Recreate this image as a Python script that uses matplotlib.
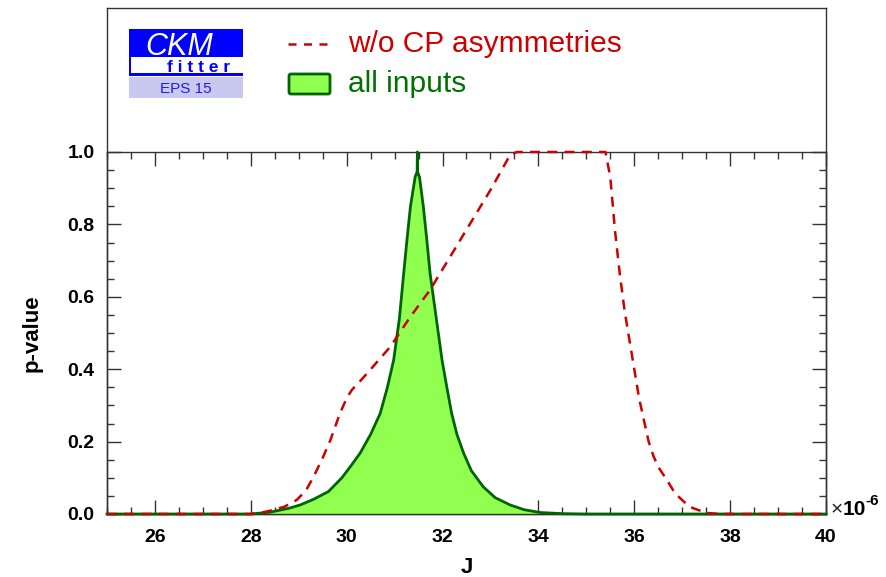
import matplotlib
matplotlib.use("Agg")
import matplotlib.pyplot as plt
from matplotlib.patches import Rectangle, FancyBboxPatch
from matplotlib.lines import Line2D
from matplotlib.ticker import MultipleLocator

plt.rcParams['font.family'] = ['Liberation Sans', 'DejaVu Sans']

# ---- data (J in units of 1e-6) ----
green_J = [25.0, 28.0, 28.4, 28.8, 29.03, 29.3, 29.62, 29.9, 30.1, 30.28, 30.5, 30.7,
           30.85, 30.98, 31.1, 31.19, 31.26, 31.33, 31.43, 31.47, 31.475, 31.48, 31.52,
           31.6, 31.67, 31.74, 31.87, 31.99, 32.09, 32.19, 32.3, 32.44, 32.6, 32.85,
           33.1, 33.41, 33.7, 34.04, 34.5, 35.0, 40.0]
green_p = [0.0, 0.0, 0.005, 0.016, 0.025, 0.04, 0.062, 0.1, 0.135, 0.168, 0.22, 0.278,
           0.35, 0.425, 0.54, 0.665, 0.76, 0.849, 0.932, 0.945, 1.0, 0.945, 0.93,
           0.849, 0.76, 0.665, 0.54, 0.425, 0.35, 0.278, 0.22, 0.168, 0.12, 0.075,
           0.045, 0.025, 0.012, 0.004, 0.001, 0.0, 0.0]

red_J = [25.0, 28.0, 28.2, 28.4, 28.7, 28.96, 29.15, 29.31, 29.5, 29.66, 29.86, 30.0,
         30.11, 30.3, 30.49, 30.7, 30.91, 31.33, 31.74, 32.16, 32.58, 33.0, 33.41, 33.55,
         35.4, 35.5, 35.6, 35.7, 35.8, 35.9, 36.0, 36.1, 36.2, 36.3, 36.4, 36.5, 36.7,
         36.85, 37.15, 37.5, 37.8, 40.0]
red_p = [0.0, 0.0, 0.003, 0.009, 0.02, 0.039, 0.065, 0.103, 0.155, 0.204, 0.278, 0.32,
         0.343, 0.37, 0.398, 0.43, 0.462, 0.545, 0.619, 0.711, 0.803, 0.895, 0.992, 1.0,
         1.0, 0.93, 0.78, 0.66, 0.56, 0.48, 0.40, 0.32, 0.26, 0.20, 0.16, 0.13, 0.09,
         0.057, 0.02, 0.003, 0.0, 0.0]

xticks = [26, 28, 30, 32, 34, 36, 38, 40]
yticks = [0.0, 0.2, 0.4, 0.6, 0.8, 1.0]

W, H = 886, 577
fig = plt.figure(figsize=(W / 100, H / 100), dpi=100)

L, R, T, B, Y1 = 107, 826, 8, 514, 152
# outer frame
frame = fig.add_axes([L / W, (H - B) / H, (R - L) / W, (B - T) / H])
frame.set_xticks([]); frame.set_yticks([])
for s in frame.spines.values():
    s.set_color('#333333'); s.set_linewidth(1.0)
frame.set_zorder(0)

ax = fig.add_axes([L / W, (H - B) / H, (R - L) / W, (B - Y1) / H])
ax.set_zorder(1)
ax.patch.set_alpha(0)
ax.set_xlim(25, 40)
ax.set_ylim(0, 1.0)

ax.fill_between(green_J, green_p, 0, color='#90ff50', lw=0, zorder=2)
ax.plot(green_J, green_p, color='#006400', lw=2.0, zorder=3, clip_on=False)
ax.plot(red_J, red_p, color='#cc0000', lw=1.8, dashes=(4.0, 2.9), zorder=4, clip_on=False)

ax.set_xticks(xticks)
ax.set_yticks(yticks)
ax.set_xticklabels([str(t) for t in xticks])
ax.set_yticklabels([f"{t:.1f}" for t in yticks])
ax.xaxis.set_minor_locator(MultipleLocator(0.5))
ax.yaxis.set_minor_locator(MultipleLocator(0.05))
ax.tick_params(which='both', direction='in', top=True, right=True, colors='#333333',
               labelcolor='black', width=1.0)
ax.tick_params(which='major', length=10, pad=9, labelsize=14)
ax.tick_params(axis='x', which='major', pad=11)
ax.tick_params(which='minor', length=5)
for lab in ax.get_xticklabels() + ax.get_yticklabels():
    lab.set_fontweight('bold')
for s in ax.spines.values():
    s.set_color('#333333'); s.set_linewidth(1.0)

ax.set_xlabel('J', fontsize=16, fontweight='bold')
ax.set_ylabel('p-value', fontsize=16, fontweight='bold')
ax.xaxis.set_label_coords(0.5, -0.12)
ax.yaxis.set_label_coords(-0.09, 0.5)

# overlay in pixel coordinates for logo / legend
ov = fig.add_axes([0, 0, 1, 1])
ov.set_xlim(0, W); ov.set_ylim(H, 0)
ov.axis('off')
ov.set_zorder(5)

# CKMfitter logo
ov.add_patch(Rectangle((129, 29), 114, 47, facecolor='#0000ff', edgecolor='none'))
ov.add_patch(Rectangle((131, 57), 112, 16, facecolor='white', edgecolor='none'))
ov.add_patch(Rectangle((129, 77), 114, 21, facecolor='#c8c8f0', edgecolor='none'))
ov.text(145, 55, 'CKM', color='white', fontsize=22, style='italic', ha='left', va='baseline')
ov.text(199, 72.5, 'f i t t e r', color='#0000ff', fontsize=12.5, fontweight='bold',
        ha='center', va='baseline')
ov.text(186, 93, 'EPS 15', color='#1e1ee6', fontsize=11, ha='center', va='baseline')

# legend
ov.add_line(Line2D([288, 330], [44, 44], color='#cc0000', lw=1.8, dashes=(3.2, 3.0)))
ov.text(348, 52, 'w/o CP asymmetries', color='#cc0000', fontsize=21.5, ha='left', va='baseline')
ov.add_patch(FancyBboxPatch((289, 74), 41, 20, boxstyle='round,pad=0,rounding_size=2',
                            facecolor='#90ff50', edgecolor='#006400', lw=2.0))
ov.text(348, 92, 'all inputs', color='#007000', fontsize=21.5, ha='left', va='baseline')

# x10^-6 multiplier (clipped at figure edge)
ov.text(831, 515, '×', color='#222222', fontsize=15, ha='left', va='baseline')
ov.text(843, 515, '10', color='black', fontsize=15, fontweight='bold', ha='left', va='baseline')
ov.text(865, 505, '-6', color='black', fontsize=11, fontweight='bold', ha='left', va='baseline')

fig.savefig('out.png', dpi=100)
